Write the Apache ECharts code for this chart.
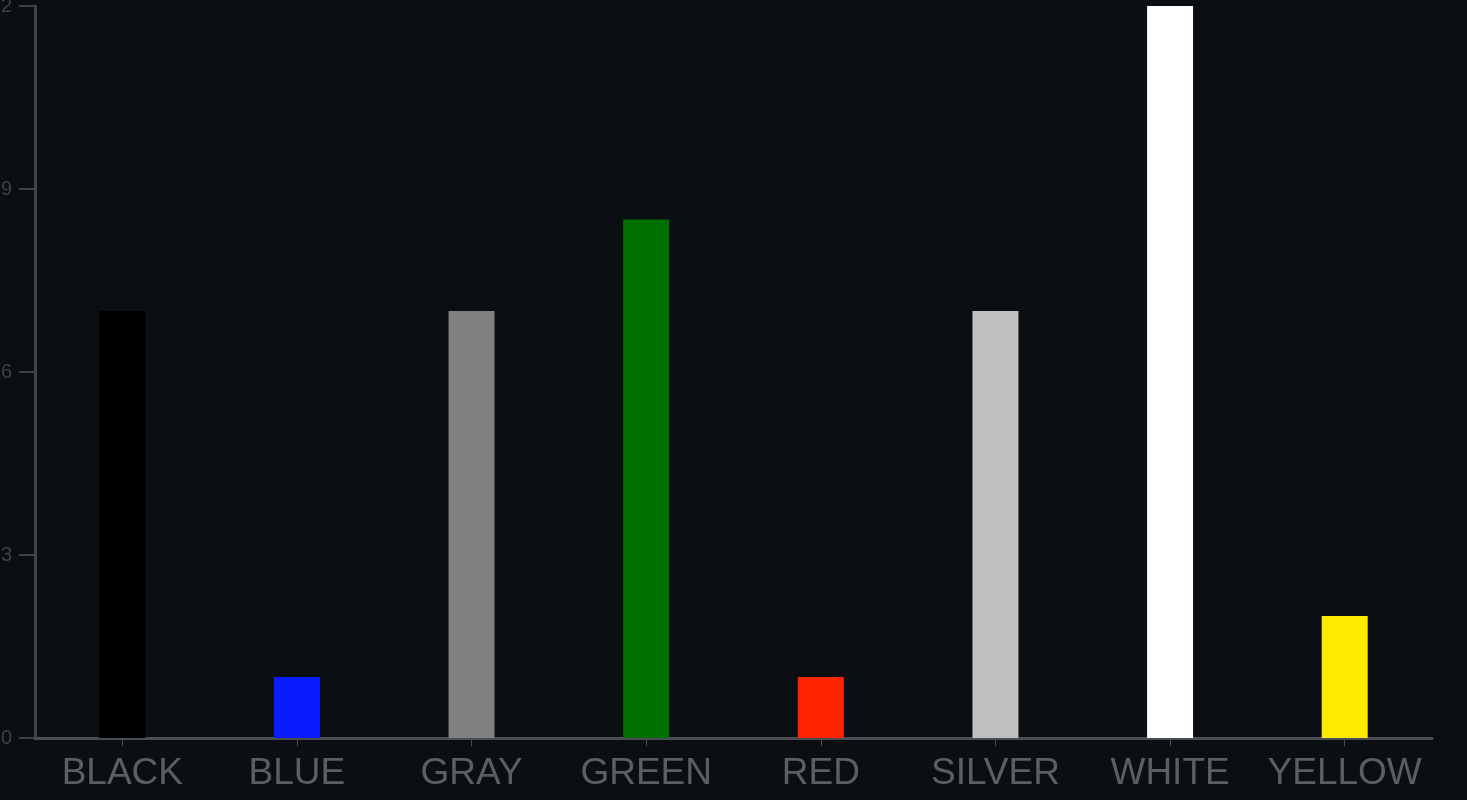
<!DOCTYPE html>
<html>
<head>
<meta charset="utf-8">
<script src="https://cdn.jsdelivr.net/npm/echarts@6/dist/echarts.min.js"></script>
<style>
html,body{margin:0;padding:0;background:#0b0e13;}
#c{width:1467px;height:800px;}
</style>
</head>
<body>
<div id="c"></div>
<script>
const categories = ['BLACK','BLUE','GRAY','GREEN','RED','SILVER','WHITE','YELLOW'];
const values = [7, 1, 7, 8.5, 1, 7, 12, 2];
const barColors = ['#000000','#0a1cff','#808080','#007000','#ff2400','#c0c0c0','#ffffff','#ffea00'];
const yTicks = [0, 3, 6, 9, 12];

const chart = echarts.init(document.getElementById('c'), null, {renderer:'canvas'});
chart.setOption({
  backgroundColor: '#0b0e13',
  animation: false,
  grid: {left: 35, right: 35, top: 6, bottom: 62, containLabel: false, outerBoundsMode: 'none'},
  xAxis: {
    type: 'category',
    data: categories,
    axisLine: {lineStyle: {color: '#4a4d52', width: 3}},
    axisTick: {show: true, alignWithLabel: true, length: 8, lineStyle: {color: '#4a4d52', width: 1}},
    axisLabel: {color: '#5b5f64', fontSize: 37, fontFamily: 'Liberation Sans, Arial, sans-serif', margin: 17, interval: 0}
  },
  yAxis: {
    type: 'value',
    min: yTicks[0],
    max: yTicks[yTicks.length-1],
    interval: 3,
    splitLine: {show: false},
    axisLine: {show: true, lineStyle: {color: '#3f4247', width: 3}},
    axisTick: {show: true, length: 16, lineStyle: {color: '#3f4247', width: 2}},
    axisLabel: {color: '#3e4146', fontSize: 20, fontFamily: 'Liberation Sans, Arial, sans-serif', margin: 23}
  },
  series: [{
    type: 'bar',
    barWidth: 46,
    data: values.map((v, i) => ({value: v, itemStyle: {color: barColors[i]}}))
  }]
});
</script>
</body>
</html>
